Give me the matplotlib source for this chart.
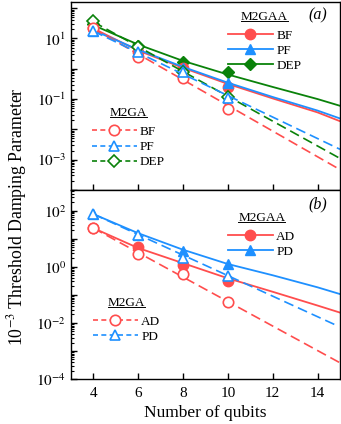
import numpy as np
import matplotlib
matplotlib.use('Agg')
from matplotlib import pyplot as plt
from matplotlib.lines import Line2D
from matplotlib.ticker import LogLocator, FuncFormatter, FixedLocator, NullFormatter

plt.rcParams['font.family'] = ['Liberation Serif', 'DejaVu Serif']
plt.rcParams['mathtext.fontset'] = 'stix'

red = '#ff4d4d'
blue = '#1e90ff'
green = '#0a820a'

# data points (number of qubits)
qubits = [4, 6, 8, 10]

# panel (a)
bf_aa = [21.4, 3.5, 1.07, 0.257]
pf_aa = [17.0, 4.0, 1.10, 0.33]
dep_aa = [30.0, 5.8, 1.72, 0.78]
bf_ga = [22.4, 2.5, 0.49, 0.047]
pf_ga = [17.4, 3.6, 0.81, 0.107]
dep_ga = [37.0, 5.4, 0.81, 0.12]

# fit curves
fit_x = [4, 6, 8, 10, 12, 14, 15]
bf_aa_fit = [21.4, 3.98, 1.07, 0.316, 0.105, 0.0363, 0.0186]
pf_aa_fit = [18.6, 4.27, 1.15, 0.347, 0.117, 0.0417, 0.0229]
dep_aa_fit = [27.5, 6.3, 1.82, 0.646, 0.251, 0.100, 0.060]
line_x = [4, 15]
bf_ga_fit = [21.4, 4.7e-4]
pf_ga_fit = [17.4, 2.2e-3]
dep_ga_fit = [35.5, 1.1e-3]

# panel (b)
ad_aa = [24.0, 4.9, 1.17, 0.32]
pd_aa = [76.0, 13.8, 3.7, 1.29]
ad_ga = [24.0, 2.9, 0.55, 0.054]
pd_ga = [76.0, 13.8, 2.0, 0.48]
ad_aa_fit = [24.0, 4.68, 1.35, 0.39, 0.129, 0.0417, 0.0234]
pd_aa_fit = [76.0, 15.8, 4.07, 1.26, 0.50, 0.186, 0.107]
ad_ga_x = [4, 15]
ad_ga_fit = [24.0, 3.8e-4]
pd_ga_x = [4, 14.8]
pd_ga_fit = [76.0, 8.5e-3]

# y decades shown on each panel
decades_a = [1e-4, 1e-3, 1e-2, 1e-1, 1e0, 1e1, 1e2]
decades_b = [1e-4, 1e-3, 1e-2, 1e-1, 1e0, 1e1, 1e2]

fig = plt.figure(figsize=(3.41, 4.24), dpi=100)
ax1 = fig.add_axes([0.208, 0.552, 0.789, 0.443])
ax2 = fig.add_axes([0.208, 0.106, 0.789, 0.446])

dash = (0, (6, 3))
ms = 7.5


def solid(ax, fx, fy, x, y, c, m, s=ms):
    ax.plot(fx, fy, '-', color=c, lw=1.3)
    ax.plot(x, y, m, color=c, mfc=c, mec=c, ms=s, ls='none')


def dashed(ax, fx, fy, x, y, c, m, s=ms):
    ax.plot(fx, fy, color=c, lw=1.2, ls=dash)
    ax.plot(x, y, m, color=c, mfc='white', mec=c, mew=1.2, ms=s, ls='none')


# panel (a)
solid(ax1, fit_x, dep_aa_fit, qubits, dep_aa, green, 'D', 6.5)
solid(ax1, fit_x, bf_aa_fit, qubits, bf_aa, red, 'o')
solid(ax1, fit_x, pf_aa_fit, qubits, pf_aa, blue, '^')
dashed(ax1, line_x, dep_ga_fit, qubits, dep_ga, green, 'D', 6.0)
dashed(ax1, line_x, bf_ga_fit, qubits, bf_ga, red, 'o')
dashed(ax1, line_x, pf_ga_fit, qubits, pf_ga, blue, '^')

# panel (b)
solid(ax2, fit_x, ad_aa_fit, qubits, ad_aa, red, 'o')
solid(ax2, fit_x, pd_aa_fit, qubits, pd_aa, blue, '^')
dashed(ax2, ad_ga_x, ad_ga_fit, qubits, ad_ga, red, 'o')
dashed(ax2, pd_ga_x, pd_ga_fit, qubits, pd_ga, blue, '^')


def fmt(parity):
    def f(v, pos):
        e = int(round(np.log10(v)))
        if e % 2 == parity:
            return '$10^{%d}$' % e
        return ''
    return f


for ax, par, dec in ((ax1, 1, decades_a), (ax2, 0, decades_b)):
    ax.set_yscale('log')
    ax.set_xlim(3, 15)
    ax.yaxis.set_major_locator(FixedLocator(dec))
    ax.yaxis.set_minor_locator(LogLocator(base=10, subs=np.arange(2, 10), numticks=100))
    ax.yaxis.set_major_formatter(FuncFormatter(fmt(par)))
    ax.yaxis.set_minor_formatter(NullFormatter())
    ax.xaxis.set_major_locator(FixedLocator([4, 6, 8, 10, 12, 14]))
    ax.tick_params(which='major', direction='in', length=4.5, width=1, labelsize=11,
                   top=False, right=False)
    ax.tick_params(which='minor', direction='in', length=2.3, width=0.8,
                   top=False, right=False)
    for sp in ax.spines.values():
        sp.set_linewidth(1.0)

ax1.set_ylim(1e-4, 10 ** 2.2)
ax2.set_ylim(1e-4, 10 ** 2.74)

ax1.tick_params(axis='x', labelbottom=False)
ax2.tick_params(axis='x', pad=6)
ax2.set_xlabel('Number of qubits', fontsize=12.5, labelpad=3)
fig.text(0.05, 0.488, '10$^{-3}$ Threshold Damping Parameter', rotation=90,
         ha='center', va='center', fontsize=12.8)

ax1.text(0.918, 0.93, '(a)', transform=ax1.transAxes, style='italic',
         fontsize=11.5, ha='center', va='center')
ax2.text(0.918, 0.926, '(b)', transform=ax2.transAxes, style='italic',
         fontsize=11.5, ha='center', va='center')


def handle(c, m, filled, s=ms):
    if filled:
        return Line2D([], [], color=c, lw=1.3, marker=m, ms=s, mfc=c, mec=c)
    return Line2D([], [], color=c, lw=1.2, ls=(0, (3, 2)), marker=m, ms=s,
                  mfc='white', mec=c, mew=1.2)


kw = dict(frameon=False, fontsize=9.5, title_fontsize=9.5, handlelength=3.4,
          handletextpad=0.25, labelspacing=0.22, borderpad=0, borderaxespad=0,
          numpoints=1, loc='upper left')

l1 = ax1.legend([handle(red, 'o', True), handle(blue, '^', True), handle(green, 'D', True, 6.5)],
                ['BF', 'PF', 'DEP'], title='M2GAA', bbox_to_anchor=(0.584, 0.955), **kw)
ax1.add_artist(l1)
l2 = ax1.legend([handle(red, 'o', False), handle(blue, '^', False), handle(green, 'D', False, 6.0)],
                ['BF', 'PF', 'DEP'], title='M2GA', bbox_to_anchor=(0.078, 0.442), **kw)
l3 = ax2.legend([handle(red, 'o', True), handle(blue, '^', True)],
                ['AD', 'PD'], title='M2GAA', bbox_to_anchor=(0.584, 0.886), **kw)
ax2.add_artist(l3)
l4 = ax2.legend([handle(red, 'o', False), handle(blue, '^', False)],
                ['AD', 'PD'], title='M2GA', bbox_to_anchor=(0.082, 0.436), **kw)
legs = [l1, l2, l3, l4]

for lg in legs:
    lg._legend_box.sep = 5

# underline the legend titles
fig.canvas.draw()
r = fig.canvas.get_renderer()
inv = fig.transFigure.inverted()
for lg in legs:
    bb = lg.get_title().get_window_extent(r)
    (x0, y0), (x1, _) = inv.transform([(bb.x0, bb.y0 + 2), (bb.x1, bb.y0 + 2)])
    fig.add_artist(Line2D([x0, x1], [y0, y0], color='black', lw=0.7,
                          transform=fig.transFigure))

fig.savefig('out.png', dpi=100)
